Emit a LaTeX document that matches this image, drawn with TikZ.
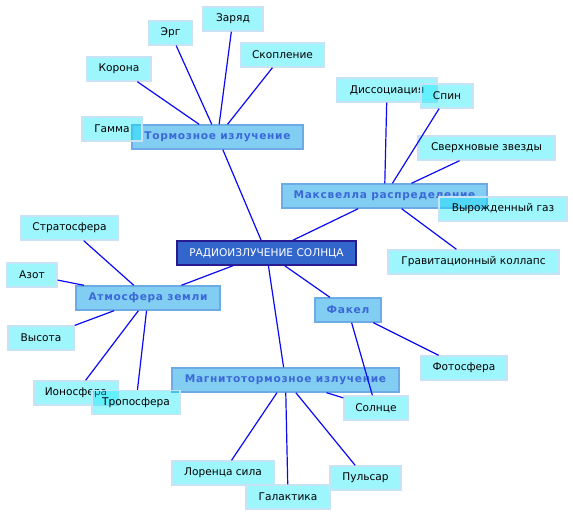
\documentclass[tikz,border=0pt]{standalone}
\usepackage{fontspec}
\setmainfont{DejaVu Sans}
\newfontfamily\midfont[LetterSpace=6.5]{DejaVu Sans}
\definecolor{leaffill}{RGB}{0,232,250}
\definecolor{leafline}{RGB}{200,226,246}
\definecolor{midfill}{RGB}{40,170,235}
\definecolor{midline}{RGB}{110,170,230}
\definecolor{midtext}{RGB}{58,104,214}
\definecolor{rootfill}{RGB}{51,102,204}
\definecolor{rootline}{RGB}{42,26,144}
\definecolor{edgeblue}{RGB}{10,10,245}
\begin{document}
\begin{tikzpicture}[x=1pt,y=-1pt,
  leaf/.style={draw=leafline, line width=1.4pt, fill=leaffill, fill opacity=0.38, text opacity=1,
    inner sep=0pt, minimum height=24pt, font=\fontsize{10.6}{12}\selectfont, text=black},
  midbox/.style={draw=midline, line width=1.4pt, fill=midfill, fill opacity=0.58, text opacity=1,
    inner sep=0pt, minimum height=24pt, font=\fontsize{10.6}{12}\selectfont\midfont\bfseries, text=midtext},
  rootbox/.style={draw=rootline, line width=1.4pt, fill=rootfill, inner sep=0pt, minimum height=24pt,
    font=\fontsize{10.6}{12}\selectfont, text=white},
  link/.style={draw=edgeblue, line width=1.2pt}]
\useasboundingbox (0,0) rectangle (573,516);
% root
\node[rootbox, minimum width=179pt] (root) at (266.5,253) {РАДИОИЗЛУЧЕНИЕ СОЛНЦА};
% mid-level
\node[midbox, minimum width=171pt] (torm) at (217.5,137) {Тормозное излучение};
\node[midbox, minimum width=205pt] (maks) at (384.5,196) {Максвелла распределение};
\node[midbox, minimum width=144pt] (atmo) at (148,298) {Атмосфера земли};
\node[midbox, minimum width=66pt] (fakel) at (348,310) {Факел};
\node[midbox, minimum width=227pt] (magn) at (285.5,380) {Магнитотормозное излучение};
% leaves
\node[leaf, minimum width=60pt] (gamma) at (112,129) {Гамма};
\node[leaf, minimum width=64pt] (korona) at (119,69) {Корона};
\node[leaf, minimum width=43pt] (erg) at (170.5,33) {Эрг};
\node[leaf, minimum width=60pt] (zaryad) at (233,19) {Заряд};
\node[leaf, minimum width=83pt] (skopl) at (282.5,55) {Скопление};
\node[leaf, minimum width=100pt] (dissoc) at (387,90) {Диссоциация};
\node[leaf, minimum width=52pt] (spin) at (447,96) {Спин};
\node[leaf, minimum width=137pt] (sverkh) at (486.5,148) {Сверхновые звезды};
\node[leaf, minimum width=128pt] (vyrozh) at (503,209) {Вырожденный газ};
\node[leaf, minimum width=171pt] (grav) at (473.5,262) {Гравитационный коллапс};
\node[leaf, minimum width=97pt] (strato) at (69.5,228) {Стратосфера};
\node[leaf, minimum width=50pt] (azot) at (32,275) {Азот};
\node[leaf, minimum width=66pt] (vysota) at (41,338) {Высота};
\node[leaf, minimum width=84pt] (iono) at (76,393) {Ионосфера};
\node[leaf, minimum width=88pt] (tropo) at (136,402.5) {Тропосфера};
\node[leaf, minimum width=86pt] (foto) at (464,368) {Фотосфера};
\node[leaf, minimum width=64pt] (solnce) at (376,408) {Солнце};
\node[leaf, minimum width=102pt] (lorenz) at (223,473) {Лоренца сила};
\node[leaf, minimum width=84pt] (galakt) at (288,497) {Галактика};
\node[leaf, minimum width=71pt] (pulsar) at (365.5,478) {Пульсар};
% connectors
\draw[link] (root) -- (torm);
\draw[link] (root) -- (maks);
\draw[link] (root) -- (atmo);
\draw[link] (root) -- (fakel);
\draw[link] (root) -- (magn);
\draw[link] (torm) -- (korona);
\draw[link] (torm) -- (erg);
\draw[link] (torm) -- (zaryad);
\draw[link] (torm) -- (skopl);
\draw[link] (maks) -- (dissoc);
\draw[link] (maks) -- (spin);
\draw[link] (maks) -- (sverkh);
\draw[link] (maks) -- (grav);
\draw[link] (atmo) -- (strato);
\draw[link] (atmo) -- (azot);
\draw[link] (atmo) -- (vysota);
\draw[link] (atmo) -- (iono);
\draw[link] (atmo) -- (tropo);
\draw[link] (fakel) -- (foto);
\draw[link] (fakel) -- (solnce);
\draw[link] (magn) -- (solnce);
\draw[link] (magn) -- (lorenz);
\draw[link] (magn) -- (galakt);
\draw[link] (magn) -- (pulsar);
\end{tikzpicture}
\end{document}
